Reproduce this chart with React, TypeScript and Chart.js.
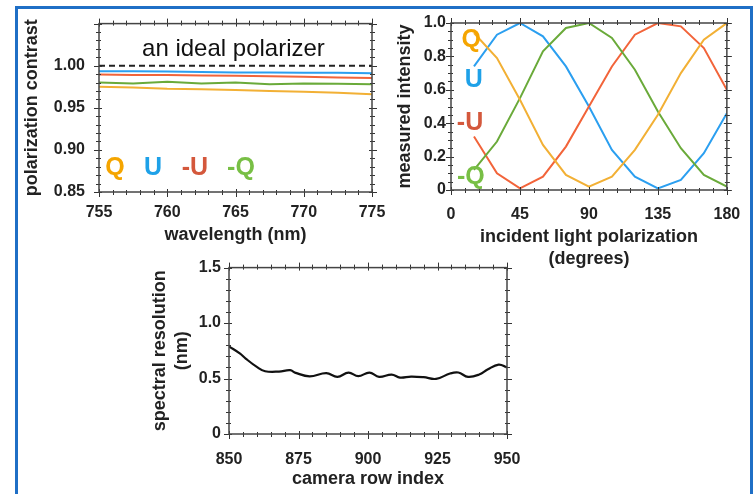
import React, { useEffect, useRef } from 'react';
import { Chart, registerables } from 'chart.js';

Chart.register(...registerables);

const FONT = "'Liberation Sans', Arial, Helvetica, sans-serif";
Chart.defaults.font.family = FONT;

// ---------- Panel A: polarization contrast vs wavelength ----------
const WAVELENGTH_NM = [755, 757.5, 760, 762.5, 765, 767.5, 770, 772.5, 775];
const CONTRAST_U = [0.9935, 0.9935, 0.993, 0.9925, 0.992, 0.992, 0.9915, 0.9915, 0.991];
const CONTRAST_NEG_U = [0.9895, 0.989, 0.989, 0.9885, 0.988, 0.9875, 0.987, 0.986, 0.9855];
const CONTRAST_NEG_Q = [0.98, 0.979, 0.981, 0.979, 0.98, 0.978, 0.979, 0.9785, 0.978];
const CONTRAST_Q = [0.975, 0.974, 0.9725, 0.972, 0.971, 0.97, 0.969, 0.968, 0.966];
const IDEAL_WAVELENGTH = [755, 775];
const IDEAL_CONTRAST = [1, 1];

// ---------- Panel B: measured intensity vs polarization angle ----------
const ANGLE_DEG = [15, 30, 45, 60, 75, 90, 105, 120, 135, 150, 165, 180];
const INTENSITY_Q = [0.94, 0.79, 0.54, 0.27, 0.09, 0.02, 0.08, 0.24, 0.45, 0.7, 0.9, 1.0];
const INTENSITY_U = [0.74, 0.93, 1.0, 0.92, 0.74, 0.5, 0.24, 0.08, 0.01, 0.06, 0.22, 0.46];
const INTENSITY_NEG_U = [0.32, 0.1, 0.01, 0.08, 0.26, 0.5, 0.74, 0.93, 1.0, 0.98, 0.85, 0.6];
const INTENSITY_NEG_Q = [0.12, 0.29, 0.55, 0.83, 0.97, 1.0, 0.91, 0.72, 0.47, 0.25, 0.09, 0.02];

// ---------- Panel C: spectral resolution vs camera row ----------
const CAMERA_ROW = [850, 854, 856, 860, 863, 868, 872, 874, 879, 885, 889, 893, 896.5, 900.5, 904, 908.5, 911.5, 915.5, 920, 924.5, 929.5, 932.5, 936, 940, 943, 947, 950];
const SPECTRAL_RES_NM = [0.79, 0.725, 0.68, 0.605, 0.566, 0.563, 0.575, 0.551, 0.52, 0.548, 0.515, 0.554, 0.521, 0.554, 0.515, 0.536, 0.509, 0.518, 0.512, 0.497, 0.545, 0.554, 0.515, 0.536, 0.581, 0.626, 0.6];

const LINE_COLORS = { Q: '#f2b035', U: '#2b9ff0', NEG_U: '#f2643a', NEG_Q: '#6aaa3a' };
const TEXT_COLORS = { Q: '#f5a500', U: '#1ea1e8', NEG_U: '#d4583c', NEG_Q: '#78bf45' };

const pts = (xs: number[], ys: number[]) => xs.map((x, i) => ({ x, y: ys[i] }));

const frameTicksPlugin = {
  id: 'frameTicks',
  afterDatasetsDraw(chart: any, _args: any, opts: any) {
    const { ctx, chartArea } = chart;
    const { left, right, top, bottom } = chartArea;
    const xs = chart.scales.x;
    const ys = chart.scales.y;
    const each = (min: number, max: number, minor: number, major: number, fn: (v: number, M: boolean) => void) => {
      const n = Math.round((max - min) / minor);
      for (let i = 0; i <= n; i++) {
        const v = min + i * minor;
        const r = (v - min) / major;
        fn(v, Math.abs(r - Math.round(r)) < 1e-6);
      }
    };
    ctx.save();
    ctx.strokeStyle = '#333';
    ctx.lineWidth = 1;
    ctx.beginPath();
    each(xs.min, xs.max, opts.xMinor, opts.xMajor, (v, M) => {
      const p = Math.round(xs.getPixelForValue(v)) + 0.5;
      const out = M ? 5 : 3;
      const inn = M ? 3 : 2;
      ctx.moveTo(p, bottom + out);
      ctx.lineTo(p, bottom - inn);
      ctx.moveTo(p, top - out);
      ctx.lineTo(p, top + inn);
    });
    each(ys.min, ys.max, opts.yMinor, opts.yMajor, (v, M) => {
      const p = Math.round(ys.getPixelForValue(v)) + 0.5;
      const out = M ? 5 : 3;
      const inn = M ? 3 : 2;
      ctx.moveTo(left - out, p);
      ctx.lineTo(left + inn, p);
      ctx.moveTo(right + out, p);
      ctx.lineTo(right - inn, p);
    });
    ctx.stroke();
    ctx.lineWidth = 1.5;
    ctx.strokeStyle = '#444';
    ctx.strokeRect(left, top, right - left, bottom - top);
    ctx.restore();
  },
};

const textMarksPlugin = {
  id: 'textMarks',
  afterDraw(chart: any, _args: any, opts: any) {
    const { ctx } = chart;
    const items = opts.items || [];
    ctx.save();
    for (let i = 0; i < items.length; i++) {
      const m = items[i];
      ctx.font = `${m.weight} ${m.size}px ${FONT}`;
      ctx.fillStyle = m.color;
      ctx.textAlign = 'center';
      ctx.textBaseline = 'middle';
      ctx.fillText(m.text, chart.scales.x.getPixelForValue(m.x), chart.scales.y.getPixelForValue(m.y));
    }
    ctx.restore();
  },
};

function axis(o: any) {
  return {
    type: 'linear',
    min: o.min,
    max: o.max,
    grid: { display: false, drawTicks: false },
    border: { display: false },
    ticks: {
      stepSize: o.step,
      callback: o.fmt,
      padding: o.tickPad,
      color: '#222',
      font: { size: 16, weight: 'bold' },
      maxRotation: 0,
      autoSkip: false,
    },
    title: {
      display: true,
      text: o.title,
      color: '#222',
      font: { size: 18, weight: 'bold' },
      padding: o.titlePad,
    },
    afterFit: (s: any) => {
      if (o.isX) s.height = o.size;
      else s.width = o.size;
    },
  };
}

function lineDs(xs: number[], ys: number[], color: string, width = 2, extra: any = {}) {
  return {
    data: pts(xs, ys),
    borderColor: color,
    backgroundColor: color,
    borderWidth: width,
    pointRadius: 0,
    fill: false,
    ...extra,
  };
}

const baseOptions = (pad: any, x: any, y: any, frame: any, items: any[]) => ({
  responsive: false,
  animation: false,
  events: [],
  layout: { padding: pad },
  plugins: {
    legend: { display: false },
    tooltip: { enabled: false },
    frameTicks: frame,
    textMarks: { items },
  },
  scales: { x, y },
});

function configA() {
  return {
    type: 'line',
    data: {
      datasets: [
        lineDs(IDEAL_WAVELENGTH, IDEAL_CONTRAST, '#222', 2, { borderDash: [6, 4] }),
        lineDs(WAVELENGTH_NM, CONTRAST_Q, LINE_COLORS.Q),
        lineDs(WAVELENGTH_NM, CONTRAST_NEG_Q, LINE_COLORS.NEG_Q),
        lineDs(WAVELENGTH_NM, CONTRAST_NEG_U, LINE_COLORS.NEG_U),
        lineDs(WAVELENGTH_NM, CONTRAST_U, LINE_COLORS.U),
      ],
    },
    options: baseOptions(
      { left: 0, top: 23, right: 28, bottom: 0 },
      axis({ isX: true, min: 755, max: 775, step: 5, fmt: (v: number) => String(v), tickPad: 10.5, title: 'wavelength (nm)', titlePad: { top: 0, bottom: 4.5 }, size: 58 }),
      axis({ isX: false, min: 0.85, max: 1.05, step: 0.05, fmt: (v: number) => (v > 1.001 ? '' : v.toFixed(2)), tickPad: 14, title: 'polarization contrast', titlePad: { top: 21.7, bottom: 0 }, size: 99 }),
      { xMajor: 5, xMinor: 1, yMajor: 0.05, yMinor: 0.01 },
      [
        { text: 'an ideal polarizer', x: 764.85, y: 1.0194, size: 24, weight: 'normal', color: '#111' },
        { text: 'Q', x: 756.17, y: 0.878, size: 25, weight: 'bold', color: TEXT_COLORS.Q },
        { text: 'U', x: 758.96, y: 0.878, size: 25, weight: 'bold', color: TEXT_COLORS.U },
        { text: '-U', x: 762.03, y: 0.878, size: 25, weight: 'bold', color: TEXT_COLORS.NEG_U },
        { text: '-Q', x: 765.4, y: 0.878, size: 25, weight: 'bold', color: TEXT_COLORS.NEG_Q },
      ]
    ),
    plugins: [frameTicksPlugin, textMarksPlugin],
  };
}

function configB() {
  return {
    type: 'line',
    data: {
      datasets: [
        lineDs(ANGLE_DEG, INTENSITY_Q, LINE_COLORS.Q),
        lineDs(ANGLE_DEG, INTENSITY_NEG_Q, LINE_COLORS.NEG_Q),
        lineDs(ANGLE_DEG, INTENSITY_NEG_U, LINE_COLORS.NEG_U),
        lineDs(ANGLE_DEG, INTENSITY_U, LINE_COLORS.U),
      ],
    },
    options: baseOptions(
      { left: 0, top: 23, right: 26, bottom: 0 },
      axis({ isX: true, min: 0, max: 180, step: 45, fmt: (v: number) => String(v), tickPad: 14.8, title: ['incident light polarization', '(degrees)'], titlePad: { top: 0, bottom: 5.6 }, size: 85 }),
      axis({ isX: false, min: 0, max: 1, step: 0.2, fmt: (v: number) => (v === 0 ? '0' : v.toFixed(1)), tickPad: 5, title: 'measured intensity', titlePad: { top: 14.2, bottom: 0 }, size: 71 }),
      { xMajor: 45, xMinor: 9, yMajor: 0.2, yMinor: 0.05 },
      [
        { text: 'Q', x: 13.2, y: 0.896, size: 25, weight: 'bold', color: TEXT_COLORS.Q },
        { text: 'U', x: 14.9, y: 0.657, size: 25, weight: 'bold', color: TEXT_COLORS.U },
        { text: '-U', x: 12.4, y: 0.403, size: 25, weight: 'bold', color: TEXT_COLORS.NEG_U },
        { text: '-Q', x: 12.9, y: 0.08, size: 25, weight: 'bold', color: TEXT_COLORS.NEG_Q },
      ]
    ),
    plugins: [frameTicksPlugin, textMarksPlugin],
  };
}

function configC() {
  return {
    type: 'line',
    data: {
      datasets: [lineDs(CAMERA_ROW, SPECTRAL_RES_NM, '#111', 2.2, { tension: 0.4 })],
    },
    options: baseOptions(
      { left: 0, top: 17, right: 33, bottom: 0 },
      axis({ isX: true, min: 850, max: 950, step: 25, fmt: (v: number) => String(v), tickPad: 15.8, title: 'camera row index', titlePad: { top: 0, bottom: 3.7 }, size: 60 }),
      axis({ isX: false, min: 0, max: 1.5, step: 0.5, fmt: (v: number) => (v === 0 ? '0' : v.toFixed(1)), tickPad: 8, title: ['spectral resolution', '(nm)'], titlePad: { top: 49.2, bottom: 0 }, size: 129 }),
      { xMajor: 25, xMinor: 5, yMajor: 0.5, yMinor: 0.1 },
      []
    ),
    plugins: [frameTicksPlugin, textMarksPlugin],
  };
}

function ChartCanvas({ left, top, width, height, make }: any) {
  const ref = useRef<HTMLCanvasElement>(null);
  useEffect(() => {
    const chart = new Chart(ref.current as HTMLCanvasElement, make() as any);
    return () => chart.destroy();
  }, []);
  return (
    <canvas
      ref={ref}
      width={width}
      height={height}
      style={{ position: 'absolute', left, top, width, height }}
    />
  );
}

export default function App() {
  return (
    <div style={{ position: 'absolute', left: 0, top: 0, width: 755, height: 494, overflow: 'hidden', background: '#fff' }}>
      <div
        style={{
          position: 'absolute',
          left: 15,
          top: 6,
          width: 738,
          height: 540,
          border: '3px solid #1f6fc6',
          boxSizing: 'border-box',
        }}
      />
      <ChartCanvas left={0} top={0} width={400} height={250} make={configA} />
      <ChartCanvas left={380} top={0} width={375} height={275} make={configB} />
      <ChartCanvas left={100} top={250} width={440} height={244} make={configC} />
    </div>
  );
}
